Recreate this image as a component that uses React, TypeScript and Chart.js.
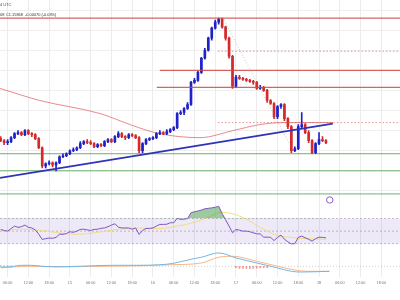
import React, { useEffect, useRef } from "react";
import { Chart, registerables } from "chart.js";

Chart.register(...registerables);

// ---- time axis (hours from day 15 00:00 UTC) ----
const X_MIN = -20.2;
const X_MAX = 95.4;
const TICK_HOURS = [-18, -12, -6, 0, 6, 12, 18, 24, 30, 36, 42, 48, 54, 60, 66, 72, 78, 84, 90];
const TICK_LABELS = ["06:00", "12:00", "18:00", "15", "06:00", "12:00", "18:00", "16", "06:00", "12:00", "18:00", "17", "06:00", "12:00", "18:00", "18", "06:00", "12:00", "18:00"];
const PRICE_GRID = [1.172, 1.17, 1.168, 1.166, 1.164, 1.162, 1.16, 1.158, 1.156, 1.154];

// ---- hourly candles, first one at hour -20 ----
const FIRST_HOUR = -20;
const FIRST_OPEN = 1.1592;
const CLOSE = [
  1.1590, 1.1588, 1.1589, 1.1593, 1.1597, 1.1598, 1.1596, 1.1600, 1.1597, 1.1596,
  1.1592, 1.1583, 1.1565, 1.1567, 1.1568, 1.1566, 1.1568, 1.1574, 1.1575, 1.1577,
  1.1580, 1.1581, 1.1583, 1.1587, 1.1589, 1.1588, 1.1587, 1.1584, 1.1586, 1.1585,
  1.1589, 1.1591, 1.1589, 1.1594, 1.1597, 1.1594, 1.1593, 1.1596, 1.1595, 1.1593,
  1.1580, 1.1587, 1.1591, 1.1592, 1.1593, 1.1597, 1.1598, 1.1597, 1.1599, 1.1601,
  1.1603, 1.1617, 1.1618, 1.1622, 1.1626, 1.1648, 1.1650, 1.1658, 1.1672, 1.1680,
  1.1692, 1.1702, 1.1708, 1.1711, 1.1703, 1.1692, 1.1674, 1.1644, 1.1653, 1.1652,
  1.1651, 1.1650, 1.1649, 1.1648, 1.1642, 1.1643, 1.1640, 1.1630, 1.1627, 1.1614,
  1.1624, 1.1626, 1.1612, 1.1604, 1.1580, 1.1582, 1.1604, 1.1606, 1.1598, 1.1590,
  1.1578, 1.1587, 1.1591, 1.1590, 1.1588,
];
const HIGH = [
  1.1594, 1.1591, 1.1591, 1.1594, 1.1598, 1.1600, 1.1599, 1.1601, 1.1601, 1.1598,
  1.1597, 1.1593, 1.1584, 1.1568, 1.1570, 1.1569, 1.1569, 1.1575, 1.1577, 1.1578,
  1.1581, 1.1583, 1.1584, 1.1589, 1.1590, 1.1591, 1.1590, 1.1588, 1.1587, 1.1587,
  1.1590, 1.1592, 1.1592, 1.1595, 1.1599, 1.1598, 1.1595, 1.1597, 1.1597, 1.1596,
  1.1594, 1.1588, 1.1592, 1.1593, 1.1594, 1.1598, 1.1600, 1.1599, 1.1601, 1.1602,
  1.1604, 1.1618, 1.1620, 1.1623, 1.1628, 1.1649, 1.1652, 1.1659, 1.1673, 1.1682,
  1.1693, 1.1703, 1.1710, 1.1712, 1.1712, 1.1704, 1.1693, 1.1675, 1.1655, 1.1655,
  1.1653, 1.1652, 1.1651, 1.1650, 1.1649, 1.1645, 1.1644, 1.1641, 1.1631, 1.1628,
  1.1625, 1.1627, 1.1627, 1.1613, 1.1605, 1.1584, 1.1606, 1.1618, 1.1607, 1.1600,
  1.1591, 1.1588, 1.1598, 1.1594, 1.1591,
];
const LOW = [
  1.1589, 1.1586, 1.1586, 1.1588, 1.1592, 1.1596, 1.1595, 1.1595, 1.1596, 1.1594,
  1.1591, 1.1582, 1.1563, 1.1563, 1.1566, 1.1564, 1.1560, 1.1567, 1.1573, 1.1574,
  1.1576, 1.1579, 1.1580, 1.1582, 1.1586, 1.1587, 1.1586, 1.1583, 1.1583, 1.1584,
  1.1584, 1.1588, 1.1588, 1.1588, 1.1593, 1.1593, 1.1591, 1.1592, 1.1594, 1.1592,
  1.1578, 1.1578, 1.1586, 1.1590, 1.1591, 1.1592, 1.1596, 1.1596, 1.1596, 1.1598,
  1.1600, 1.1602, 1.1616, 1.1616, 1.1621, 1.1625, 1.1647, 1.1649, 1.1657, 1.1671,
  1.1679, 1.1690, 1.1701, 1.1706, 1.1702, 1.1690, 1.1672, 1.1642, 1.1643, 1.1651,
  1.1650, 1.1649, 1.1648, 1.1646, 1.1641, 1.1641, 1.1639, 1.1628, 1.1626, 1.1612,
  1.1612, 1.1622, 1.1610, 1.1602, 1.1578, 1.1579, 1.1581, 1.1602, 1.1597, 1.1588,
  1.1577, 1.1577, 1.1586, 1.1589, 1.1587,
];

// ---- moving average on price ----
const MA_HOURS = [-20.2, -8.7, 8.7, 18.2, 24.6, 31.8, 37.6, 47.1, 54.9, 61.6, 76];
const MA_PRICE = [1.1642, 1.163, 1.1617, 1.1605, 1.1598, 1.1594, 1.1593, 1.16, 1.1606, 1.1608, 1.1608];

// ---- drawings ----
const TOP_RESISTANCE = 1.1712;
const RES_1 = 1.166;
const RES_1_FROM = 26;
const RES_2 = 1.1643;
const RES_2_FROM = 25.1;
const DOTTED_LEVELS = [1.1679, 1.1608];
const DOTTED_FROM = 42.8;
const SUPPORT_LEVELS = [1.1577, 1.156, 1.1537];
const TREND_HOURS = [-20.2, 76];
const TREND_PRICE = [1.1553, 1.1607];
const DIAG_HOURS = [44.5, 64.2];
const DIAG_PRICE = [1.171, 1.1582];
const EVENT_HOUR = 75.1;
const EVENT_PRICE = 1.1531;

// ---- RSI ----
const RSI = [
  52.7, 51, 50, 54, 58, 56, 57, 59.6, 56, 55,
  52, 45, 36.7, 38, 39, 38.5, 40, 45, 45, 46,
  49, 48, 50, 52.7, 53, 52, 51, 52.7, 53, 54.5,
  55, 57, 59.6, 61.7, 56.4, 55, 55, 55, 53, 55,
  44.7, 51, 54.3, 54.3, 55, 58, 60.7, 60.7, 61, 63.3,
  63.3, 70.3, 68.7, 69, 70, 79.3, 80.9, 82, 83.5, 85.5,
  86.3, 87, 88, 89.5, 78, 68, 58, 47.3, 52.7, 51.6,
  50, 50, 49, 47.3, 45.7, 45.5, 40.4, 40.4, 40, 35,
  40, 43.6, 37, 33, 29.7, 30, 40, 42, 39.3, 37,
  34, 38, 40.4, 40, 39.3,
];
const RSI_MA_HOURS = [-20, -14, -8, -3, 2, 8, 14, 20, 26, 31, 36, 40, 44, 48, 52, 54, 57, 60, 64, 68, 74];
const RSI_MA = [50, 53, 51, 47, 45, 48, 53, 55, 54, 58, 64, 72, 80, 76, 66, 59, 50, 43, 40, 38, 37];
const RSI_LEVELS = [70, 50, 30];

// ---- MACD ----
const MACD_HOURS = [-20, -17, -14, -11, -8, -4, 3, 12, 20, 26, 30, 35, 38, 43, 48, 54, 60, 64, 67, 75];
const MACD = [-0.0001, -0.00005, 0.0001, 0.0001, 0, -0.00005, 0, 0.0001, 0.0001, 0.00015, 0.0003, 0.0007, 0.0009, 0.00133, 0.00083, 0.00033, -0.00017, -0.0005, -0.00057, -0.0005];
const SIGNAL_HOURS = [-20, -12, -3, 9, 20, 29, 38, 43, 47, 54, 60, 66, 69, 75];
const SIGNAL = [-0.00015, 0, -0.00005, 0, 0.00005, 0.00015, 0.00033, 0.0009, 0.001, 0.0005, 0, -0.00043, -0.0005, -0.0005];
const HIST_HOURS = [-20, -19, -18, -17, 48, 49, 50, 51, 52, 53, 54, 55, 56, 57];
const HIST = [0.00006, 0.00005, 0.00005, 0.00004, -0.00015, -0.0002, -0.0002, -0.0002, -0.00022, -0.0002, -0.00018, -0.00017, -0.00015, -0.00015];

const HEADER_1 = "4 UTC";
const HEADER_2 = ["08", "C1.15868", "-0.00070 (-0.03%)"];

const UP = "#1f22c9";
const DOWN = "#d42a2a";

const pts = (xs: number[], ys: number[]) => xs.map((x, i) => ({ x, y: ys[i] }));

const line = (data: any[], color: string, width: number, yAxisID: string, order: number, extra: any = {}) => ({
  type: "line" as const,
  data,
  borderColor: color,
  borderWidth: width,
  pointRadius: 0,
  fill: false,
  tension: 0,
  yAxisID,
  order,
  ...extra,
});

const headerPlugin = {
  id: "header",
  afterDraw(chart: any) {
    const ctx = chart.ctx;
    ctx.save();
    ctx.font = '3.9px "Liberation Sans", Arial, sans-serif';
    ctx.textBaseline = "middle";
    ctx.fillStyle = "#444";
    ctx.fillText(HEADER_1, 0, 5);
    ctx.fillStyle = "#333";
    ctx.fillText(HEADER_2[0], 0, 14.5);
    ctx.fillText(HEADER_2[1], 6, 14.5);
    ctx.fillText(HEADER_2[2], 25, 14.5);
    ctx.restore();
  },
};

const noPad = (s: any) => {
  s.paddingLeft = 0;
  s.paddingRight = 0;
  s.paddingTop = 0;
  s.paddingBottom = 0;
};

export default function App() {
  const ref = useRef<HTMLCanvasElement>(null);

  useEffect(() => {
    const opens = [FIRST_OPEN, ...CLOSE.slice(0, -1)];
    const hours = CLOSE.map((_, i) => FIRST_HOUR + i);
    const colors = CLOSE.map((c, i) => (c >= opens[i] ? UP : DOWN));

    const datasets: any[] = [
      // RSI band
      line([{ x: X_MIN, y: 70 }, { x: X_MAX, y: 70 }], "rgba(0,0,0,0)", 0, "yR", 30, {
        fill: { target: { value: 30 } },
        backgroundColor: "rgba(126,87,194,0.13)",
      }),
      ...RSI_LEVELS.map((lv) =>
        line([{ x: X_MIN, y: lv }, { x: X_MAX, y: lv }], "rgba(130,110,160,0.55)", 0.8, "yR", 29, { borderDash: [2, 2] })
      ),
      line(pts(RSI_MA_HOURS, RSI_MA), "rgba(240,220,120,0.9)", 1, "yR", 28, { tension: 0.4, cubicInterpolationMode: "monotone" }),
      line(pts(hours, RSI), "#7e57c2", 1, "yR", 27, {
        fill: { target: { value: 70 }, above: "rgba(76,160,80,0.55)", below: "rgba(0,0,0,0)" },
      }),
      // MACD
      line([{ x: X_MIN, y: 0 }, { x: X_MAX, y: 0 }], "rgba(120,120,120,0.45)", 0.8, "yM", 26, { borderDash: [1, 2] }),
      {
        type: "bar",
        data: pts(HIST_HOURS, HIST),
        backgroundColor: HIST.map((v) => (v >= 0 ? "rgba(38,166,154,0.6)" : "rgba(239,83,80,0.6)")),
        barThickness: 1,
        grouped: false,
        yAxisID: "yM",
        order: 25,
      },
      line(pts(SIGNAL_HOURS, SIGNAL), "rgba(245,180,130,0.95)", 1, "yM", 24, { tension: 0.4, cubicInterpolationMode: "monotone" }),
      line(pts(MACD_HOURS, MACD), "rgba(110,180,230,0.95)", 1, "yM", 23, { tension: 0.4, cubicInterpolationMode: "monotone" }),
      // price MA
      line(pts(MA_HOURS, MA_PRICE), "rgba(225,110,110,0.8)", 1, "y", 20, { tension: 0.4, cubicInterpolationMode: "monotone" }),
      // support lines
      ...SUPPORT_LEVELS.map((p) => line([{ x: X_MIN, y: p }, { x: X_MAX, y: p }], "rgba(90,170,90,0.9)", 1, "y", 19)),
      // candles
      {
        type: "bar",
        data: hours.map((h, i) => ({ x: h, y: [LOW[i], HIGH[i]] })),
        backgroundColor: colors,
        barThickness: 1,
        grouped: false,
        yAxisID: "y",
        order: 11,
      },
      {
        type: "bar",
        data: hours.map((h, i) => ({ x: h, y: [opens[i], CLOSE[i]] })),
        backgroundColor: colors,
        barThickness: 2,
        minBarLength: 1,
        grouped: false,
        yAxisID: "y",
        order: 10,
      },
      // drawings
      line([{ x: X_MIN, y: TOP_RESISTANCE }, { x: X_MAX, y: TOP_RESISTANCE }], "rgba(210,70,70,0.85)", 1.2, "y", 5),
      line([{ x: RES_1_FROM, y: RES_1 }, { x: X_MAX, y: RES_1 }], "rgba(210,70,70,0.85)", 1.2, "y", 5),
      line([{ x: RES_2_FROM, y: RES_2 }, { x: X_MAX, y: RES_2 }], "rgba(210,70,70,0.85)", 1.2, "y", 5),
      ...DOTTED_LEVELS.map((p) =>
        line([{ x: DOTTED_FROM, y: p }, { x: X_MAX, y: p }], "rgba(215,90,90,0.7)", 0.9, "y", 5, { borderDash: [1.5, 2] })
      ),
      line(pts(DIAG_HOURS, DIAG_PRICE), "rgba(150,150,150,0.7)", 0.8, "y", 4, { borderDash: [1, 2] }),
      line(pts(TREND_HOURS, TREND_PRICE), "#2f33b8", 1.8, "y", 3),
      {
        type: "scatter",
        data: [{ x: EVENT_HOUR, y: EVENT_PRICE }],
        pointRadius: 3.2,
        pointBorderColor: "#8e5cc8",
        pointBackgroundColor: "#ffffff",
        pointBorderWidth: 1,
        yAxisID: "y",
        order: 2,
        clip: false,
      },
    ];

    const chart = new Chart(ref.current!, {
      type: "line",
      data: { datasets },
      plugins: [headerPlugin],
      options: {
        animation: false,
        responsive: false,
        devicePixelRatio: 1,
        layout: { autoPadding: false, padding: { left: 0, right: 0, top: 0, bottom: 10.7 } },
        plugins: { legend: { display: false }, tooltip: { enabled: false } },
        events: [],
        scales: {
          x: {
            type: "linear",
            min: X_MIN,
            max: X_MAX,
            offset: false,
            afterBuildTicks: (s: any) => {
              s.ticks = TICK_HOURS.map((v) => ({ value: v }));
            },
            afterFit: noPad,
            ticks: {
              autoSkip: false,
              maxRotation: 0,
              padding: 3.7,
              color: "#777",
              font: { size: 3.8, family: '"Liberation Sans", Arial, sans-serif' },
              callback: (v: any) => TICK_LABELS[TICK_HOURS.indexOf(Number(v))] ?? "",
            },
            grid: { color: "#ececec", drawTicks: false, offset: false },
            border: { display: false },
          },
          y: {
            type: "linear",
            min: 1.1454,
            max: 1.173,
            afterBuildTicks: (s: any) => {
              s.ticks = PRICE_GRID.map((v) => ({ value: v }));
            },
            afterFit: (s: any) => {
              noPad(s);
              s.width = 0;
            },
            ticks: { display: false },
            grid: { color: "#efefef", drawTicks: false },
            border: { display: false },
          },
          yR: { type: "linear", min: -23.6, max: 418, display: false },
          yM: { type: "linear", min: -0.0011, max: 0.0265, display: false },
        },
      } as any,
    });
    return () => chart.destroy();
  }, []);

  return (
    <div style={{ position: "fixed", left: 0, top: 0, width: 400, height: 300, background: "#ffffff" }}>
      <canvas ref={ref} width={400} height={300} style={{ display: "block", width: 400, height: 300 }} />
    </div>
  );
}
